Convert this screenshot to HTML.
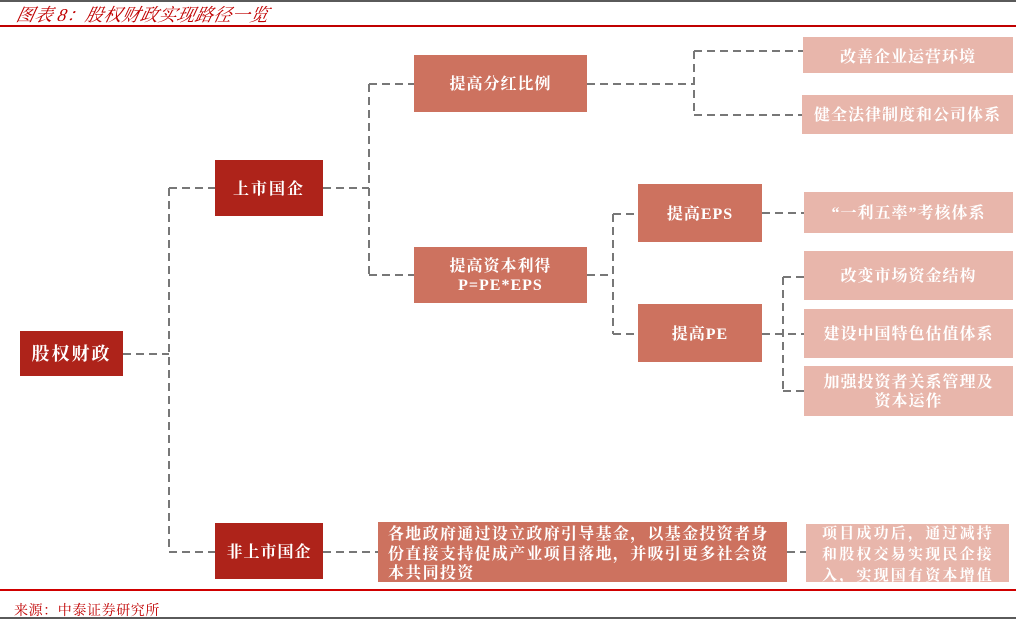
<!DOCTYPE html>
<html><head><meta charset="utf-8">
<style>
*{margin:0;padding:0;box-sizing:border-box}
html,body{width:1016px;height:619px;background:#fff;overflow:hidden;position:relative}
body{font-family:"Liberation Serif","Noto Serif CJK SC",serif}
.topbar{position:absolute;left:0;top:0;width:1016px;height:2px;background:#5a5a5a}
.title{position:absolute;left:14px;top:1px;font-size:18px;color:#c00000;font-style:italic;font-family:"Liberation Serif","Noto Serif CJK SC",serif;white-space:nowrap;transform:skewX(-12deg);transform-origin:left bottom;letter-spacing:0.3px}
.redtop{position:absolute;left:0;top:25px;width:1016px;height:2px;background:#c00000}
.redbot{position:absolute;left:0;top:589px;width:1016px;height:2px;background:#d00000}
.graybot{position:absolute;left:0;top:617px;width:1016px;height:2px;background:#5a5a5a}
.src{position:absolute;left:14px;top:600px;font-size:14px;color:#c00000;white-space:nowrap;letter-spacing:0.6px}
.b{position:absolute;display:flex;align-items:center;justify-content:center;text-align:center;color:#fff;font-weight:bold;font-size:16px;letter-spacing:1px;line-height:19px;font-family:"Liberation Serif","Noto Serif CJK SC",serif;padding-top:2px}
.d{background:#ae231a}
.m{background:#cd725f}
.l{background:#e8b6ab}
svg{position:absolute;left:0;top:0}
.para{position:absolute;color:#fff;font-weight:bold;white-space:nowrap;overflow:hidden;font-family:"Liberation Serif","Noto Serif CJK SC",serif}
</style></head><body>
<div class="topbar"></div>
<div class="title">图表 8：股权财政实现路径一览</div>
<div class="redtop"></div>

<svg width="1016" height="619" viewBox="0 0 1016 619">
<g stroke="#777" stroke-width="2" stroke-dasharray="8,5" fill="none">
<path d="M123 354H169"/>
<path d="M169 188V552"/>
<path d="M169 188H215"/>
<path d="M169 552H215"/>
<path d="M323 188H369"/>
<path d="M369 84V275"/>
<path d="M369 84H414"/>
<path d="M369 275H414"/>
<path d="M587 84H694"/>
<path d="M694 51V115"/>
<path d="M694 51H803"/>
<path d="M694 115H803"/>
<path d="M587 275H613"/>
<path d="M613 214V334"/>
<path d="M613 214H638"/>
<path d="M613 334H638"/>
<path d="M762 213H804"/>
<path d="M762 334H804"/>
<path d="M783 277V391"/>
<path d="M783 277H804"/>
<path d="M783 391H804"/>
<path d="M323 552H378"/>
<path d="M787 552H806"/>
</g>
</svg>

<div class="b d" style="left:20px;top:331px;width:103px;height:45px;font-size:18px;letter-spacing:2px">股权财政</div>
<div class="b d" style="left:215px;top:160px;width:108px;height:56px;letter-spacing:2px">上市国企</div>
<div class="b d" style="left:215px;top:523px;width:108px;height:56px">非上市国企</div>

<div class="b m" style="left:414px;top:55px;width:173px;height:57px">提高分红比例</div>
<div class="b m" style="left:414px;top:247px;width:173px;height:56px;flex-direction:column">提高资本利得<br>P=PE*EPS</div>
<div class="b m" style="left:638px;top:184px;width:124px;height:58px">提高EPS</div>
<div class="b m" style="left:638px;top:304px;width:124px;height:58px">提高PE</div>

<div class="b l" style="left:803px;top:37px;width:210px;height:36px;padding-top:4px">改善企业运营环境</div>
<div class="b l" style="left:802px;top:95px;width:211px;height:39px">健全法律制度和公司体系</div>
<div class="b l" style="left:804px;top:192px;width:209px;height:41px">“一利五率”考核体系</div>
<div class="b l" style="left:804px;top:251px;width:209px;height:49px">改变市场资金结构</div>
<div class="b l" style="left:804px;top:309px;width:209px;height:49px">建设中国特色估值体系</div>
<div class="b l" style="left:804px;top:366px;width:209px;height:50px">加强投资者关系管理及<br>资本运作</div>

<div class="para m" style="left:378px;top:522px;width:409px;height:60px;padding:3px 0 0 10px;font-size:16px;line-height:19.5px;letter-spacing:1.3px">各地政府通过设立政府引导基金，以基金投资者身<br>份直接支持促成产业项目落地，并吸引更多社会资<br>本共同投资</div>
<div class="para l" style="left:806px;top:524px;width:203px;height:58px;padding:0 0 0 16px;font-size:15px;line-height:21px;letter-spacing:2.2px">项目成功后，通过减持<br>和股权交易实现民企接<br>入，实现国有资本增值</div>

<div class="redbot"></div>
<div class="src">来源：中泰证券研究所</div>
<div class="graybot"></div>
</body></html>
